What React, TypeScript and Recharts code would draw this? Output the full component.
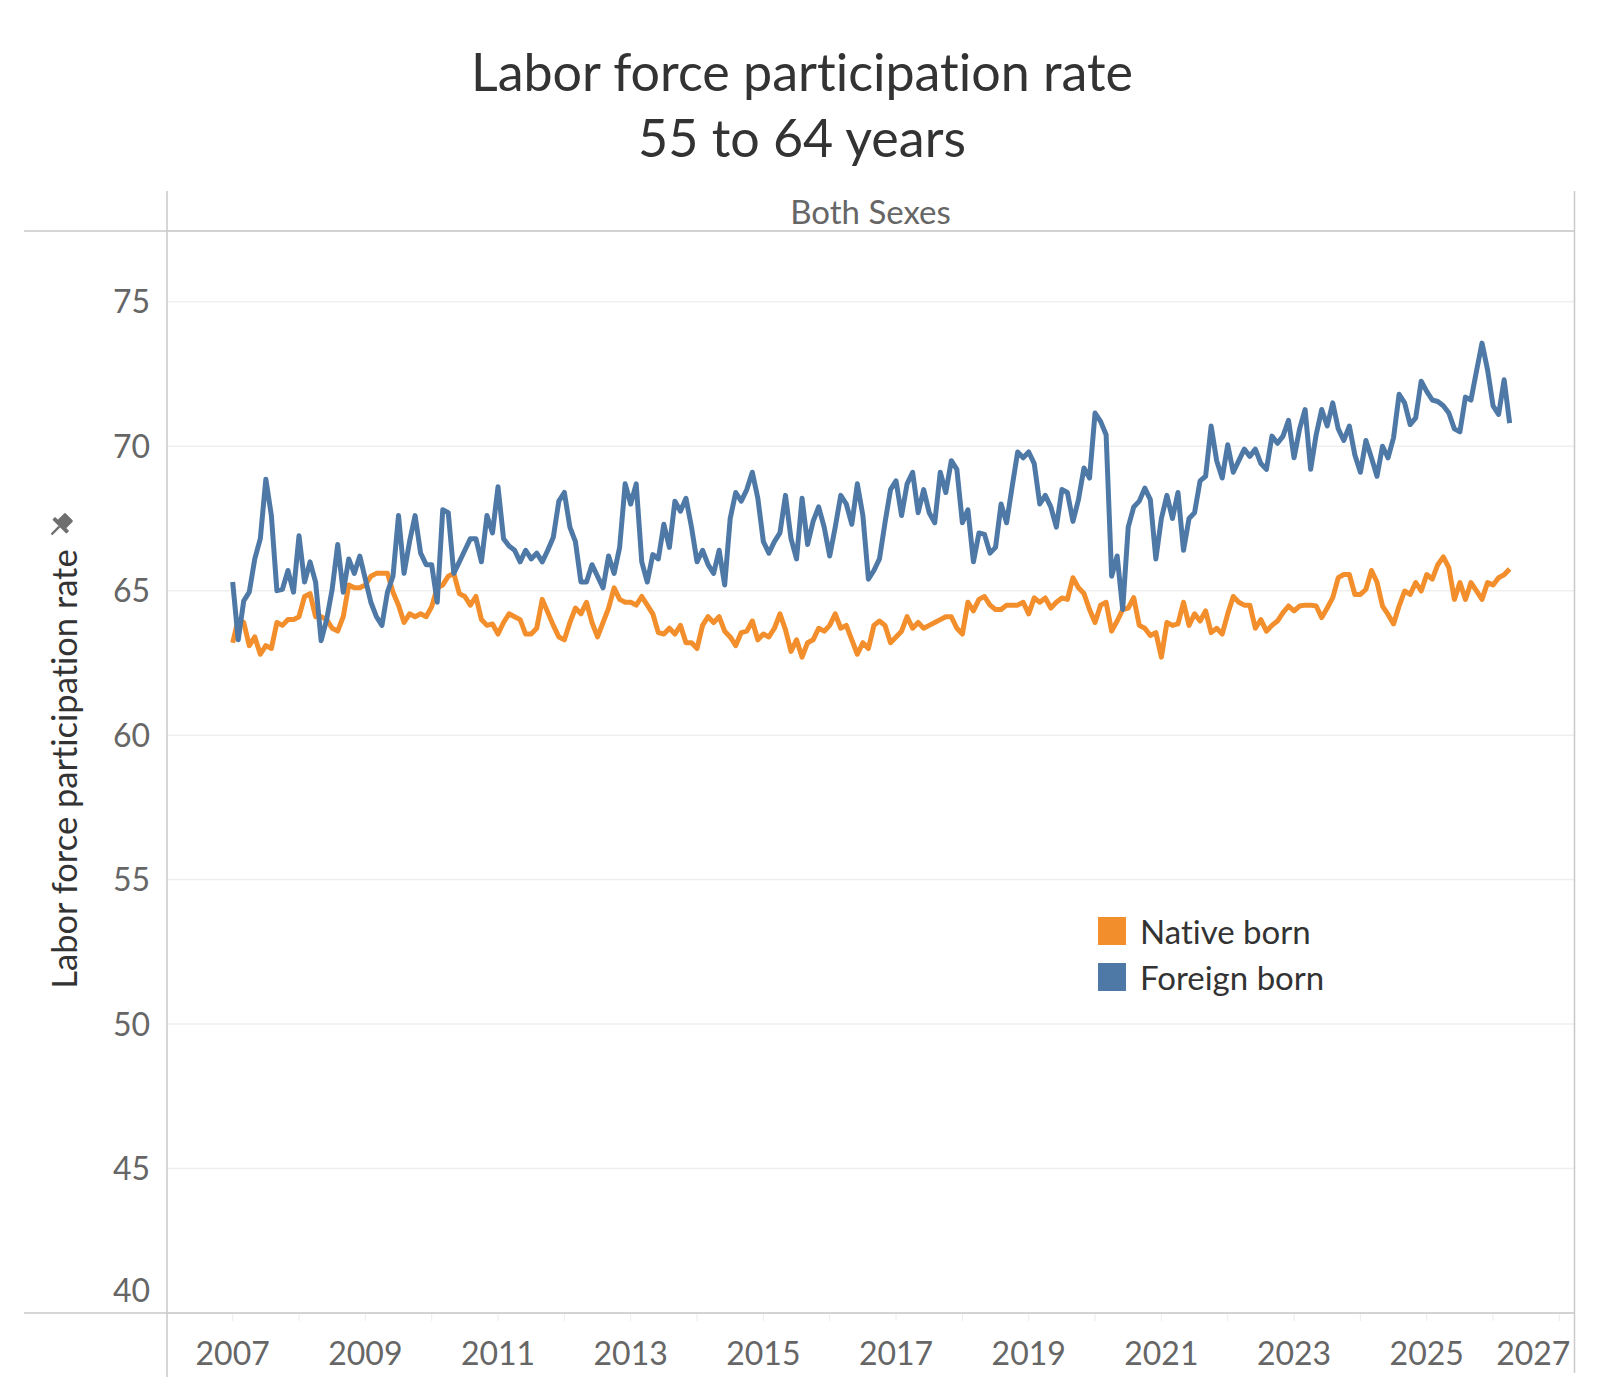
import React from 'react';
import { LineChart, Line, XAxis, YAxis, CartesianGrid } from 'recharts';

// monthly values, Jan 2007 onwards
const START_YEAR = 2007;

const nativeBorn = [
  // 2007
  63.2, 64.0, 63.9, 63.1, 63.4, 62.8, 63.1, 63.0, 63.9, 63.8, 64.0, 64.0,
  // 2008
  64.1, 64.8, 64.9, 64.1, 64.1, 64.0, 63.7, 63.6, 64.1, 65.2, 65.1, 65.1,
  // 2009
  65.2, 65.5, 65.6, 65.6, 65.6, 64.95, 64.5, 63.9, 64.2, 64.1, 64.2, 64.1,
  // 2010
  64.45, 65.1, 65.2, 65.5, 65.6, 64.9, 64.8, 64.5, 64.8, 64.0, 63.8, 63.85,
  // 2011
  63.5, 63.9, 64.2, 64.1, 64.0, 63.5, 63.5, 63.7, 64.7, 64.25, 63.8, 63.4,
  // 2012
  63.3, 63.9, 64.4, 64.2, 64.6, 63.9, 63.4, 63.9, 64.4, 65.1, 64.7, 64.6,
  // 2013
  64.6, 64.5, 64.8, 64.5, 64.2, 63.55, 63.5, 63.7, 63.5, 63.8, 63.2, 63.2,
  // 2014
  63.0, 63.8, 64.1, 63.9, 64.1, 63.6, 63.4, 63.1, 63.55, 63.6, 63.95, 63.3,
  // 2015
  63.5, 63.4, 63.7, 64.2, 63.65, 62.9, 63.3, 62.7, 63.2, 63.3, 63.7, 63.6,
  // 2016
  63.8, 64.2, 63.7, 63.8, 63.3, 62.8, 63.2, 63.0, 63.8, 63.95, 63.8, 63.2,
  // 2017
  63.4, 63.6, 64.1, 63.7, 63.9, 63.7, 63.8, 63.9, 64.0, 64.1, 64.1, 63.7,
  // 2018
  63.5, 64.6, 64.3, 64.7, 64.8, 64.5, 64.35, 64.35, 64.5, 64.5, 64.5, 64.6,
  // 2019
  64.2, 64.75, 64.6, 64.75, 64.4, 64.6, 64.75, 64.7, 65.45, 65.1, 64.9, 64.35,
  // 2020
  63.9, 64.5, 64.6, 63.6, 63.95, 64.35, 64.4, 64.76, 63.8, 63.7, 63.45, 63.55,
  // 2021
  62.7, 63.9, 63.8, 63.85, 64.6, 63.8, 64.2, 63.95, 64.3, 63.55, 63.7, 63.5,
  // 2022
  64.2, 64.8, 64.6, 64.5, 64.5, 63.7, 64.0, 63.6, 63.8, 63.95, 64.24, 64.47,
  // 2023
  64.3, 64.47, 64.5, 64.5, 64.47, 64.07, 64.4, 64.76, 65.45, 65.56, 65.56, 64.87,
  // 2024
  64.87, 65.05, 65.7, 65.3, 64.47, 64.18, 63.85, 64.47, 64.99, 64.87, 65.28, 64.99,
  // 2025
  65.56, 65.4, 65.9, 66.17, 65.8, 64.7, 65.28, 64.7, 65.28, 64.99, 64.7, 65.28,
  // 2026
  65.2, 65.45, 65.55, 65.75,
];

const foreignBorn = [
  // 2007
  65.3, 63.3, 64.65, 64.95, 66.1, 66.8, 68.86, 67.6, 65.0, 65.05, 65.7, 64.95,
  // 2008
  66.9, 65.3, 66.0, 65.3, 63.27, 64.0, 65.05, 66.6, 64.95, 66.1, 65.6, 66.2,
  // 2009
  65.4, 64.6, 64.1, 63.8, 64.95, 65.5, 67.6, 65.6, 66.7, 67.6, 66.3, 65.9,
  // 2010
  65.9, 64.6, 67.8, 67.7, 65.6, 66.0, 66.4, 66.8, 66.8, 66.0, 67.6, 67.0,
  // 2011
  68.6, 66.8, 66.55, 66.4, 66.0, 66.4, 66.1, 66.3, 66.0, 66.4, 66.85, 68.1,
  // 2012
  68.4, 67.2, 66.7, 65.3, 65.3, 65.9, 65.5, 65.1, 66.2, 65.6, 66.5, 68.7,
  // 2013
  68.0, 68.7, 66.0, 65.3, 66.25, 66.1, 67.3, 66.5, 68.1, 67.75, 68.2, 67.2,
  // 2014
  66.0, 66.4, 65.9, 65.6, 66.4, 65.2, 67.5, 68.4, 68.1, 68.5, 69.1, 68.2,
  // 2015
  66.7, 66.3, 66.7, 67.0, 68.3, 66.8, 66.1, 68.2, 66.6, 67.4, 67.9, 67.2,
  // 2016
  66.2, 67.2, 68.3, 68.0, 67.3, 68.7, 67.6, 65.4, 65.7, 66.1, 67.35, 68.5,
  // 2017
  68.8, 67.6, 68.7, 69.1, 67.7, 68.5, 67.7, 67.35, 69.1, 68.4, 69.5, 69.2,
  // 2018
  67.35, 67.8, 66.0, 67.0, 66.95, 66.3, 66.5, 68.0, 67.35, 68.6, 69.8, 69.6,
  // 2019
  69.8, 69.4, 68.0, 68.3, 67.9, 67.2, 68.5, 68.4, 67.4, 68.15, 69.25, 68.9,
  // 2020
  71.15, 70.86, 70.4, 65.5, 66.2, 64.35, 67.2, 67.9, 68.1, 68.55, 68.15, 66.1,
  // 2021
  67.5, 68.3, 67.5, 68.4, 66.4, 67.5, 67.7, 68.8, 68.96, 70.7, 69.5, 68.9,
  // 2022
  70.05, 69.1, 69.5, 69.9, 69.65, 69.9, 69.4, 69.2, 70.35, 70.1, 70.35, 70.9,
  // 2023
  69.6, 70.6, 71.27, 69.2, 70.4, 71.27, 70.7, 71.5, 70.6, 70.2, 70.7, 69.7,
  // 2024
  69.1, 70.2, 69.6, 68.96, 70.0, 69.6, 70.3, 71.8, 71.5, 70.75, 70.98, 72.25,
  // 2025
  71.9, 71.6, 71.55, 71.4, 71.15, 70.6, 70.5, 71.7, 71.6, 72.6, 73.57, 72.65,
  // 2026
  71.4, 71.1, 72.3, 70.8,
];

const yearTicks = [
  2007, 2008, 2009, 2010, 2011, 2012, 2013, 2014, 2015, 2016, 2017,
  2018, 2019, 2020, 2021, 2022, 2023, 2024, 2025, 2026, 2027,
];
const valueTicks = [40, 45, 50, 55, 60, 65, 70, 75];

const NATIVE = '#F28E2B';
const FOREIGN = '#4E79A7';
const FONT = 'Lato, "Noto Sans", sans-serif';
const FRAME = '#c9c9c9';

const rows = nativeBorn.map((v, i) => ({
  t: START_YEAR + i / 12,
  native: v,
  foreign: foreignBorn[i],
}));

const XTick = (props: any) => {
  const { x, y, payload } = props;
  const v = payload.value;
  if (v % 2 === 0) return null;
  const last = v === yearTicks[yearTicks.length - 1];
  return (
    <text
      x={last ? x + 11 : x}
      y={y + 44}
      textAnchor={last ? 'end' : 'middle'}
      fill="#666"
      fontSize={32}
      fontFamily={FONT}
    >
      {v}
    </text>
  );
};

const YTick = (props: any) => {
  const { x, y, payload } = props;
  const shift = payload.value === valueTicks[0] ? -23 : 0;
  return (
    <text
      x={x}
      y={y + shift}
      dy="0.36em"
      textAnchor="end"
      fill="#666"
      fontSize={32}
      fontFamily={FONT}
    >
      {payload.value}
    </text>
  );
};

const legendItems = [
  { label: 'Native born', color: NATIVE },
  { label: 'Foreign born', color: FOREIGN },
];

export default function App() {
  return (
    <div
      style={{
        position: 'absolute',
        left: 0,
        top: 0,
        width: 1600,
        height: 1400,
        background: '#fff',
        fontFamily: FONT,
        fontVariantLigatures: 'none',
        color: '#333',
      }}
    >
      <div
        style={{
          position: 'absolute',
          left: 0,
          top: 38,
          width: 1604,
          textAlign: 'center',
          fontSize: 52,
          lineHeight: '66px',
          color: '#333',
        }}
      >
        Labor force participation rate
        <br />
        55 to 64 years
      </div>

      <div
        style={{
          position: 'absolute',
          left: 167,
          top: 191,
          width: 1407,
          textAlign: 'center',
          fontSize: 33,
          lineHeight: '40px',
          color: '#666',
        }}
      >
        Both Sexes
      </div>

      <LineChart
        width={1600}
        height={1400}
        data={rows}
        margin={{ top: 231, right: 26, bottom: 27, left: 17 }}
      >
        <CartesianGrid vertical={false} stroke="#efefef" strokeWidth={1.5} />
        <XAxis
          dataKey="t"
          type="number"
          domain={[2006.01, 2027.22]}
          ticks={yearTicks}
          interval={0}
          allowDataOverflow
          axisLine={false}
          tickLine={{ stroke: '#ececec' }}
          tickSize={8}
          tickMargin={0}
          height={60}
          tick={<XTick />}
        />
        <YAxis
          type="number"
          domain={[40, 77.45]}
          ticks={valueTicks}
          interval={0}
          allowDataOverflow
          axisLine={false}
          tickLine={false}
          tickSize={0}
          tickMargin={17}
          width={150}
          tick={<YTick />}
        />
        <Line
          type="linear"
          dataKey="native"
          stroke={NATIVE}
          strokeWidth={5}
          strokeLinejoin="round"
          dot={false}
          isAnimationActive={false}
        />
        <Line
          type="linear"
          dataKey="foreign"
          stroke={FOREIGN}
          strokeWidth={5}
          strokeLinejoin="round"
          dot={false}
          isAnimationActive={false}
        />
      </LineChart>

      <svg
        width={1600}
        height={1400}
        style={{ position: 'absolute', left: 0, top: 0, pointerEvents: 'none' }}
      >
        <line x1={24} x2={1575} y1={231} y2={231} stroke={FRAME} strokeWidth={1.5} />
        <line x1={24} x2={1575} y1={1313} y2={1313} stroke={FRAME} strokeWidth={1.5} />
        <line x1={167} x2={167} y1={191} y2={1377} stroke={FRAME} strokeWidth={1.5} />
        <line x1={1574.5} x2={1574.5} y1={191} y2={1373} stroke={FRAME} strokeWidth={1.5} />
        {/* pin next to the axis title */}
        <g transform="translate(60 526) rotate(45)" fill="#6f6f6f">
          <rect x={-6} y={-13} width={12} height={11} rx={1.5} />
          <rect x={-10} y={-3} width={20} height={4} rx={1} />
          <rect x={-1.2} y={1} width={2.4} height={11} />
        </g>
      </svg>

      <div
        style={{
          position: 'absolute',
          left: 63,
          top: 769,
          transform: 'translate(-50%, -50%) rotate(-90deg)',
          whiteSpace: 'nowrap',
          fontSize: 34.5,
          color: '#333',
        }}
      >
        Labor force participation rate
      </div>

      <div style={{ position: 'absolute', left: 1098, top: 908 }}>
        {legendItems.map((item) => (
          <div
            key={item.label}
            style={{ display: 'flex', alignItems: 'center', height: 46 }}
          >
            <div style={{ width: 28, height: 28, background: item.color, marginRight: 14 }} />
            <span style={{ fontSize: 33, color: '#333' }}>{item.label}</span>
          </div>
        ))}
      </div>
    </div>
  );
}
